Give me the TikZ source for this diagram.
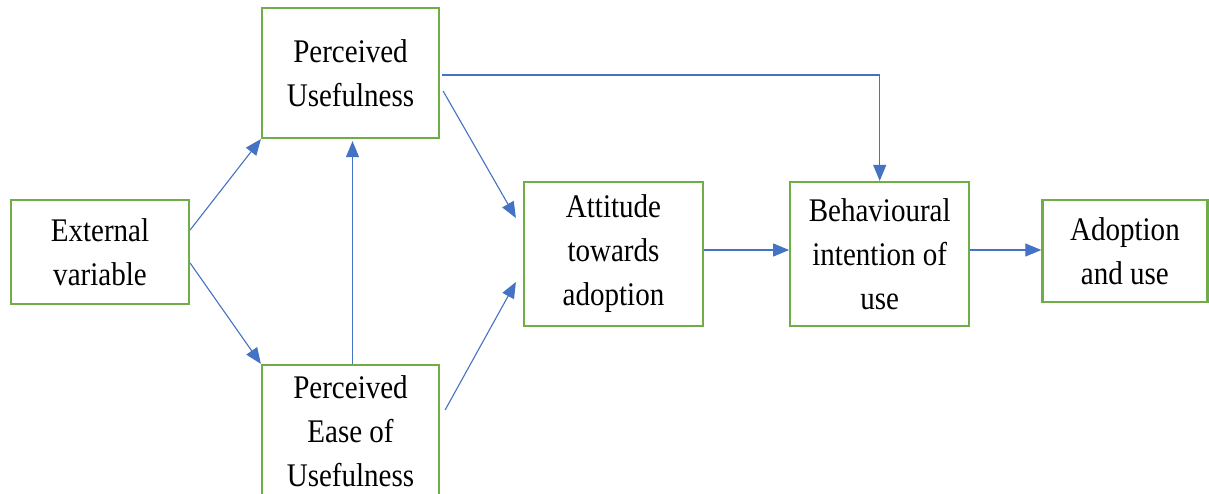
\documentclass[tikz,border=0pt]{standalone}
\usepackage{fontspec}
\setmainfont[FakeStretch=0.88]{Liberation Serif}
\usetikzlibrary{positioning}
\usetikzlibrary{arrows.meta}
\definecolor{boxgreen}{RGB}{112,173,71}
\definecolor{arrblue}{RGB}{68,114,196}

\begin{document}
\begin{tikzpicture}[x=1pt,y=-1pt,
                box/.style={draw=boxgreen,line width=2.2pt,fill=white,align=center,inner sep=0pt,
                    font=\fontsize{33}{44}\selectfont},
                arr/.style={draw=arrblue,line width=1.1pt,-{Triangle[length=16pt,width=13pt]}}]
                \useasboundingbox (0,0) rectangle (1209,493);
                \node(ext) [box,minimum width=178pt,minimum height=104pt] at (100,252) {External\\variable};
                \node(pu) [box,minimum width=177pt,minimum height=130pt] at (350.5,73) {Perceived\\Usefulness};
                \node(peou) [box,minimum width=177pt,minimum height=132pt] at (350.5,431) {Perceived\\Ease of\\Usefulness};
                \node(att) [box,minimum width=179pt,minimum height=144pt] at (613.5,254) {Attitude\\towards\\adoption};
                \node(bi) [box,minimum width=179pt,minimum height=144pt,right=85pt of att] {Behavioural\\intention of\\use};
                \node(ad) [box,minimum width=165pt,minimum height=102pt,right=71pt of bi,yshift=3pt] {Adoption\\and use};

                \draw[arr] ([yshift=22pt] ext.east) -- (pu.south west);
                \draw[arr] ([yshift=-11pt] ext.east) -- (peou.north west);
                \draw[arr] ([xshift=2pt] peou.north) -- ([xshift=2pt,yshift=-2pt] pu.south);
                \draw[arr] ([xshift=3pt,yshift=-18pt] pu.east) -- ([xshift=-7pt,yshift=36pt] att.west);
                \draw[arr] ([xshift=5pt,yshift=21pt] peou.east) -- ([xshift=-7pt,yshift=-28pt] att.west);
                \draw[arr] ([xshift=2pt,yshift=-2pt] pu.east) -| (bi.north);
                \draw[arr] ([yshift=4pt] att.east) -- ([yshift=4pt] bi.west);
                \draw[arr] ([yshift=4pt] bi.east) -- ([yshift=1pt] ad.west);
            \end{tikzpicture}
\end{document}
